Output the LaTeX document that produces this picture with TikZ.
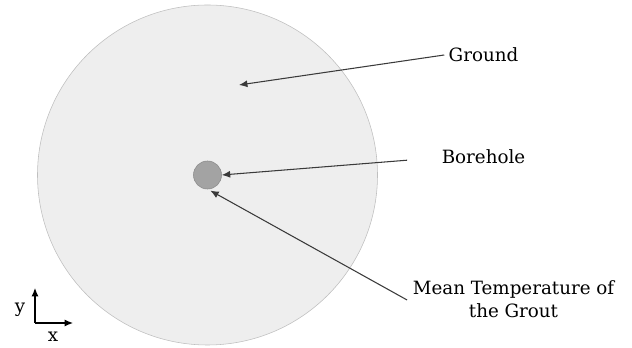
\documentclass[tikz,border=0pt]{standalone}
\usepackage{fontspec}
\setmainfont{DejaVu Serif}
\usepackage{tikz}
\usetikzlibrary{arrows.meta}
\definecolor{groundgray}{HTML}{EEEEEE}
\definecolor{holegray}{HTML}{A3A3A3}
\definecolor{linegray}{HTML}{3A3A3A}
\tikzset{
    label text/.style={font=\fontsize{13}{16.5}\selectfont, align=center, inner sep=3pt},
    pointer/.style={draw=linegray, line width=.75pt, -{Latex[length=6pt, width=5pt]}},
    axis/.style={draw=black, line width=.75pt, -{Latex[length=6pt, width=5pt]}}
}
\begin{document}
\begin{tikzpicture}
            \useasboundingbox(-5.1875, -4.325) rectangle (10.6125, 4.375);
            \fill[groundgray, draw=black!25, line width=.4pt](0, 0)circle(4.25);
            \node[circle, fill=holegray, draw=black!45, line width=.4pt, minimum size=.7cm, inner sep=0pt](hole) at (0, 0){};
            \node[label text](ground) at (6.9, 3.0){Ground};
            \node[label text](borehole) at (6.9, .45){Borehole};
            \node[label text](grout) at (7.65, -3.1){Mean Temperature of\\the Grout};
            \coordinate(groundtip) at (.7875, 2.25);
            \coordinate(grouttip) at (.07, -.39);
            \coordinate(boreholestart) at (4.99, .37);
            \coordinate(groutstart) at (4.99, -3.125);
            \draw[pointer](ground.west)--(groundtip);
            \draw[pointer](boreholestart)--(hole.east);
            \draw[pointer](groutstart)--(grouttip);
            % axes
            \coordinate(origin) at (-4.3125, -3.7);
            \coordinate(ytip) at (-4.3125, -2.825);
            \coordinate(xtip) at (-3.3625, -3.7);
            \draw[axis](origin)--(ytip);
            \draw[axis](origin)--(xtip);
            \node[label text](ylabel) at (-4.6875, -3.36){y};
            \node[label text](xlabel) at (-3.8625, -4.05){x};
        \end{tikzpicture}
\end{document}
